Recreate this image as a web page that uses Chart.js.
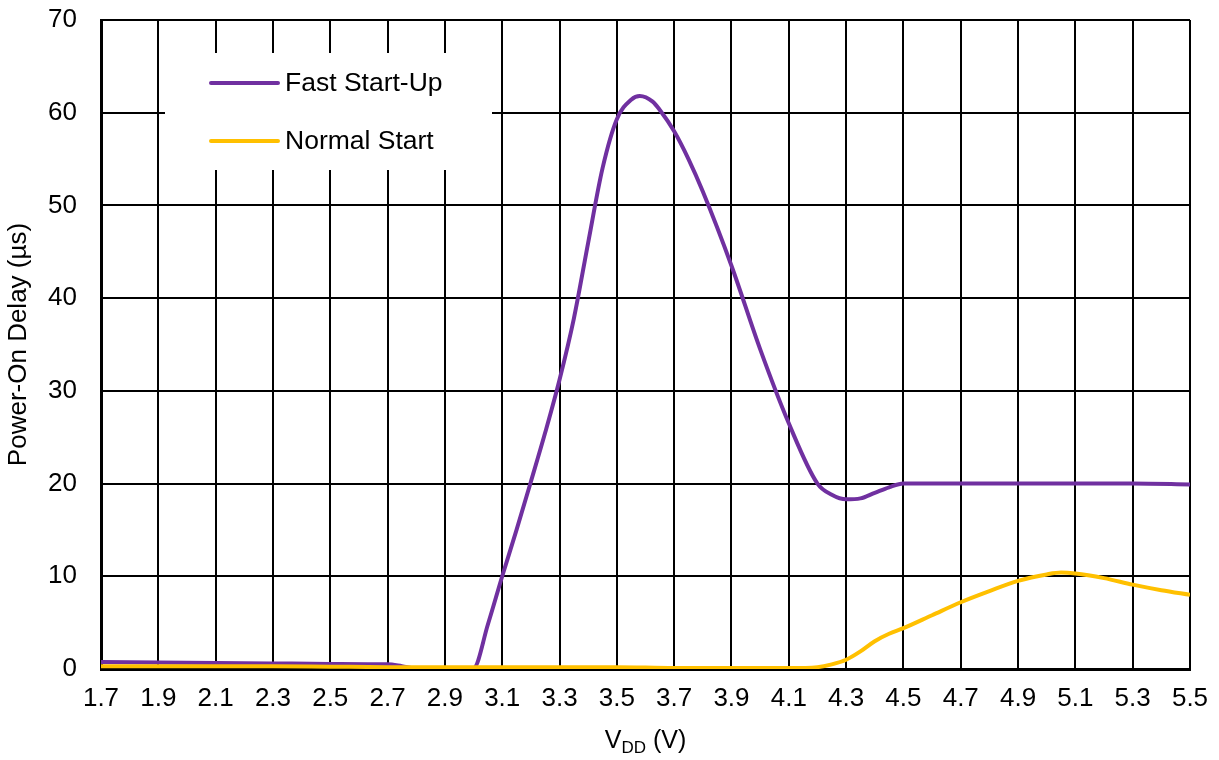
<!DOCTYPE html>
<html>
<head>
<meta charset="utf-8">
<script src="https://cdn.jsdelivr.net/npm/chart.js@4.4.1/dist/chart.umd.min.js"></script>
<style>
  html, body { margin: 0; padding: 0; background: #fff; }
  #wrap { width: 1219px; height: 760px; }
</style>
</head>
<body>
<div id="wrap"><canvas id="grafico" width="1219" height="760"></canvas></div>
<script>
// valores
const fastV = [1.7, 1.9, 2.1, 2.3, 2.5, 2.7, 2.75, 2.8, 2.9, 3.0, 3.05, 3.1, 3.15, 3.2, 3.25, 3.3, 3.35, 3.4, 3.45, 3.5, 3.55, 3.58, 3.625, 3.65, 3.7, 3.75, 3.8, 3.9, 4.0, 4.1, 4.2, 4.25, 4.3, 4.35, 4.4, 4.45, 4.5, 4.7, 4.9, 5.1, 5.3, 5.5];
const fastDelay = [0.75, 0.7, 0.65, 0.6, 0.55, 0.5, 0.3, 0.05, 0.0, 0.1, 4.8, 10, 15, 20.2, 25.5, 31.2, 37.8, 46, 54, 59.3, 61.4, 61.8, 61.2, 60.3, 58, 55, 51.5, 43.5, 34.5, 26.5, 20, 18.8, 18.3, 18.4, 19.0, 19.6, 20, 20, 20, 20, 20, 19.9];

const normalV = [1.7, 1.9, 2.1, 2.3, 2.5, 2.7, 2.9, 3.1, 3.3, 3.5, 3.7, 3.9, 4.1, 4.2, 4.25, 4.3, 4.35, 4.4, 4.45, 4.5, 4.6, 4.7, 4.8, 4.9, 5.0, 5.05, 5.1, 5.2, 5.3, 5.4, 5.5];
const normalDelay = [0.3, 0.3, 0.3, 0.3, 0.25, 0.2, 0.2, 0.2, 0.2, 0.2, 0.1, 0.1, 0.1, 0.2, 0.5, 1.0, 1.9, 3.0, 3.8, 4.4, 5.8, 7.2, 8.4, 9.5, 10.2, 10.4, 10.3, 9.8, 9.1, 8.5, 8.0];

const xTicks = [1.7, 1.9, 2.1, 2.3, 2.5, 2.7, 2.9, 3.1, 3.3, 3.5, 3.7, 3.9, 4.1, 4.3, 4.5, 4.7, 4.9, 5.1, 5.3, 5.5];
const yTicks = [0, 10, 20, 30, 40, 50, 60, 70];

const FONTE = '"Liberation Sans", Arial, sans-serif';
const ROXO = '#7030A0';
const AMARELO = '#FFC000';

const pares = (xs, ys) => xs.map((x, i) => ({ x: x, y: ys[i] }));

// legenda dentro da área do gráfico, com fundo branco por cima da grelha
const legendaPlugin = {
  id: 'legenda',
  beforeDatasetsDraw(chart) {
    const { ctx, chartArea } = chart;
    const bx = chartArea.left + 64, by = chartArea.top + 33;
    ctx.save();
    ctx.fillStyle = '#fff';
    ctx.fillRect(bx, by, 327, 117);
    ctx.lineCap = 'round';
    ctx.lineWidth = 4;
    ctx.font = '26.5px ' + FONTE;
    ctx.textBaseline = 'middle';
    chart.data.datasets.forEach((ds, i) => {
      const ly = by + 30 + i * 58;
      ctx.strokeStyle = ds.borderColor;
      ctx.beginPath();
      ctx.moveTo(bx + 46, ly);
      ctx.lineTo(bx + 113, ly);
      ctx.stroke();
      ctx.fillStyle = '#000';
      ctx.fillText(ds.label, bx + 120, ly + 1);
    });
    ctx.restore();
  },
  afterDraw(chart) {
    // título do eixo x com índice DD
    const { ctx, chartArea } = chart;
    const cx = (chartArea.left + chartArea.right) / 2;
    const y = 741;
    ctx.save();
    ctx.fillStyle = '#000';
    ctx.textBaseline = 'middle';
    ctx.font = '25px ' + FONTE;
    const wV = ctx.measureText('V').width;
    const wP = ctx.measureText(' (V)').width;
    ctx.font = '17px ' + FONTE;
    const wDD = ctx.measureText('DD').width;
    let x = cx - (wV + wDD + wP) / 2;
    ctx.font = '25px ' + FONTE;
    ctx.fillText('V', x, y);
    x += wV;
    ctx.font = '17px ' + FONTE;
    ctx.fillText('DD', x, y + 7);
    x += wDD;
    ctx.font = '25px ' + FONTE;
    ctx.fillText(' (V)', x, y);
    ctx.restore();
  }
};

const ctx = document.getElementById('grafico').getContext('2d');
const grafico = new Chart(ctx, {
  type: 'line',
  data: {
    datasets: [{
      label: 'Fast Start-Up',
      data: pares(fastV, fastDelay),
      borderColor: ROXO,
      borderWidth: 4,
      pointRadius: 0,
      cubicInterpolationMode: 'monotone',
      fill: false,
      order: 1
    }, {
      label: 'Normal Start',
      data: pares(normalV, normalDelay),
      borderColor: AMARELO,
      borderWidth: 4,
      pointRadius: 0,
      cubicInterpolationMode: 'monotone',
      fill: false,
      order: 0
    }]
  },
  options: {
    responsive: false,
    animation: false,
    layout: { padding: { left: 0, right: 29, top: 20, bottom: 0 } },
    plugins: {
      legend: { display: false },
      tooltip: { enabled: false }
    },
    scales: {
      x: {
        type: 'linear',
        min: 1.7,
        max: 5.5,
        afterBuildTicks: axis => { axis.ticks = xTicks.map(v => ({ value: v })); },
        afterFit: axis => { axis.height = 91; axis.paddingLeft = 0; axis.paddingRight = 0; },
        ticks: {
          color: '#000',
          font: { family: FONTE, size: 26 },
          padding: 14,
          maxRotation: 0,
          autoSkip: false,
          callback: v => v.toFixed(1)
        },
        grid: { color: '#000', lineWidth: 2, drawTicks: false },
        border: { color: '#000', width: 3 }
      },
      y: {
        min: 0,
        max: 70,
        afterBuildTicks: axis => { axis.ticks = yTicks.map(v => ({ value: v })); },
        afterFit: axis => { axis.width = 101; axis.paddingTop = 0; axis.paddingBottom = 0; },
        ticks: {
          color: '#000',
          font: { family: FONTE, size: 26 },
          padding: 24
        },
        grid: { color: '#000', lineWidth: 2, drawTicks: false },
        border: { color: '#000', width: 3 },
        title: {
          display: true,
          text: 'Power-On Delay (µs)',
          color: '#000',
          font: { family: FONTE, size: 26 },
          padding: { top: 3, bottom: 0 }
        }
      }
    }
  },
  plugins: [legendaPlugin]
});
</script>
</body>
</html>
